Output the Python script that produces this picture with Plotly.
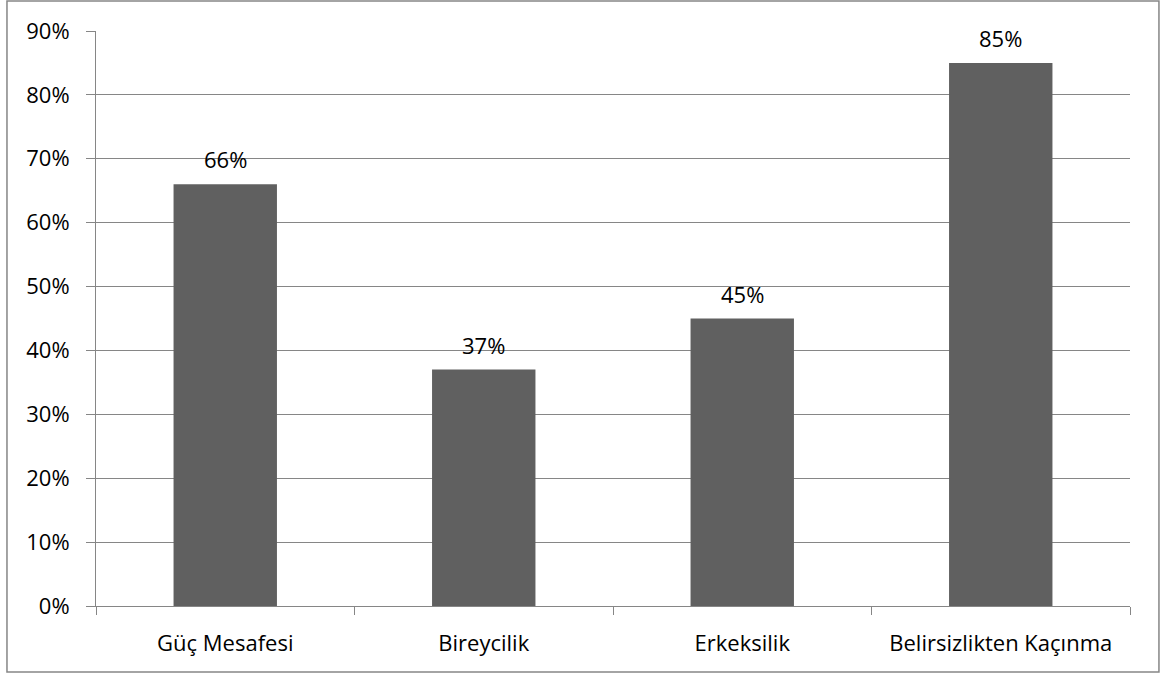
import plotly.graph_objects as go

categories = ["Güç Mesafesi", "Bireycilik", "Erkeksilik", "Belirsizlikten Kaçınma"]
values = [0.66, 0.37, 0.45, 0.85]
labels = ["66%", "37%", "45%", "85%"]

FONT = "Open Sans"
FS = 22
fig = go.Figure(go.Bar(x=categories, y=values, marker=dict(color="#606060", line=dict(width=0)),
                       hoverinfo="skip"))

for c, v, t in zip(categories, values, labels):
    fig.add_annotation(x=c, y=v, text=t, showarrow=False, yanchor="bottom", yshift=8,
                       font=dict(family=FONT, size=FS, color="#000000"))

fig.update_layout(
    width=1173, height=675,
    margin=dict(l=96, r=43, t=31, b=69),
    paper_bgcolor="white", plot_bgcolor="white",
    bargap=0.6, showlegend=False,
    font=dict(family=FONT, size=FS, color="#000000"),
    xaxis=dict(type="category", tickson="boundaries", ticks="outside", ticklen=8, tickcolor="#868686",
               showline=True, linecolor="#868686", linewidth=1, showgrid=False,
               ticklabelstandoff=18,
               tickfont=dict(family=FONT, size=FS)),
    yaxis=dict(range=[0, 0.9], dtick=0.1, tickformat=".0%", ticks="outside", ticklen=9,
               tickcolor="#868686", showline=True, linecolor="#868686", linewidth=1,
               showgrid=True, gridcolor="#868686", gridwidth=1, zeroline=False,
               ticklabelstandoff=12,
               tickfont=dict(family=FONT, size=FS)),
    shapes=[dict(type="rect", xref="paper", yref="paper", x0=-0.0861, x1=1.028, y0=-0.1148, y1=1.052,
                 line=dict(color="#868686", width=1.5), fillcolor="rgba(0,0,0,0)", layer="below")],
)
fig.write_html("out.html")
